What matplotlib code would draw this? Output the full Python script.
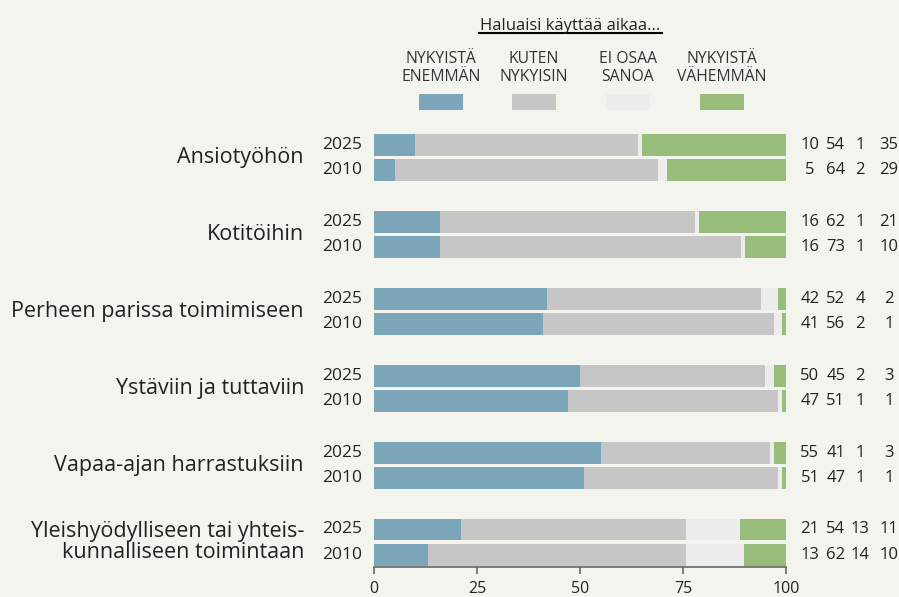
import numpy as np
import matplotlib.pyplot as plt
from matplotlib.patches import Rectangle
from matplotlib.lines import Line2D

plt.rcParams['font.family'] = ['Open Sans', 'DejaVu Sans']

# Data
categories = ['Ansiotyöhön', 'Kotitöihin', 'Perheen parissa toimimiseen',
              'Ystäviin ja tuttaviin', 'Vapaa-ajan harrastuksiin',
              'Yleishyödylliseen tai yhteis-\nkunnalliseen toimintaan']
years = ['2025', '2010']
series = ['NYKYISTÄ\nENEMMÄN', 'KUTEN\nNYKYISIN', 'EI OSAA\nSANOA', 'NYKYISTÄ\nVÄHEMMÄN']

more_2025 = [10, 16, 42, 50, 55, 21]
same_2025 = [54, 62, 52, 45, 41, 54]
dk_2025 = [1, 1, 4, 2, 1, 13]
less_2025 = [35, 21, 2, 3, 3, 11]

more_2010 = [5, 16, 41, 47, 51, 13]
same_2010 = [64, 73, 56, 51, 47, 62]
dk_2010 = [2, 1, 2, 1, 1, 14]
less_2010 = [29, 10, 1, 1, 1, 10]

colors = ['#7ba6ba', '#c6c6c6', '#ececea', '#98bd7a']
bg = '#f4f4ef'
txt = '#222222'

fig = plt.figure(figsize=(8.99, 5.97), dpi=100, facecolor=bg)
ax = fig.add_axes([374 / 899, 1 - 567 / 597, 412 / 899, (567 - 120) / 597])
ax.set_facecolor(bg)

rows = {
    '2025': np.array([more_2025, same_2025, dk_2025, less_2025], dtype=float),
    '2010': np.array([more_2010, same_2010, dk_2010, less_2010], dtype=float),
}
offsets = {'2025': -0.163, '2010': 0.163}
h = 0.286
idx = np.arange(len(categories))

for yr in years:
    vals = rows[yr]
    shares = vals / vals.sum(axis=0) * 100  # bars fill whole width
    left = np.zeros(len(categories))
    y = idx + offsets[yr]
    for k in range(4):
        ax.barh(y, shares[k], left=left, height=h, color=colors[k], linewidth=0)
        left += shares[k]
    for i in idx:
        ax.text(-3.0, y[i], yr, ha='right', va='center', fontsize=12.5, color=txt)
        for k, cx in enumerate([105.8, 112.1, 118.0, 125.0]):
            ax.text(cx, y[i], f'{int(vals[k][i])}', ha='center', va='center',
                    fontsize=12, color=txt, clip_on=False)

for i, cat in enumerate(categories):
    ax.text(-17, i, cat, ha='right', va='center', fontsize=15.5, color=txt,
            linespacing=1.0)

ax.set_xlim(0, 100)
ax.set_ylim(5 + 0.325, -0.491)
ax.set_yticks([])
ax.set_xticks([0, 25, 50, 75, 100])
ax.tick_params(axis='x', direction='out', length=5, width=1.2, color='#666666',
               labelsize=11.5, labelcolor=txt, pad=5)
for s in ['top', 'right', 'left']:
    ax.spines[s].set_visible(False)
ax.spines['bottom'].set_color('#666666')
ax.spines['bottom'].set_linewidth(1.2)

# legend
fig.text(570.5 / 899, 1 - 29.5 / 597, 'Haluaisi käyttää aikaa...', ha='center', va='baseline',
         fontsize=12, color=txt)
fig.add_artist(Line2D([479 / 899, 662 / 899], [1 - 32.5 / 597, 1 - 32.5 / 597],
                      color='black', linewidth=1.5))
for k, cx in enumerate([441, 534, 628, 722]):
    fig.text(cx / 899, 1 - 68 / 597, series[k], ha='center', va='center',
             fontsize=11.3, color='#333333', linespacing=1.2)
    fig.add_artist(Rectangle(((cx - 22) / 899, 1 - 110 / 597), 44 / 899, 16 / 597,
                             facecolor=colors[k], edgecolor='none',
                             transform=fig.transFigure))

fig.savefig('out.png', dpi=100, facecolor=bg)
